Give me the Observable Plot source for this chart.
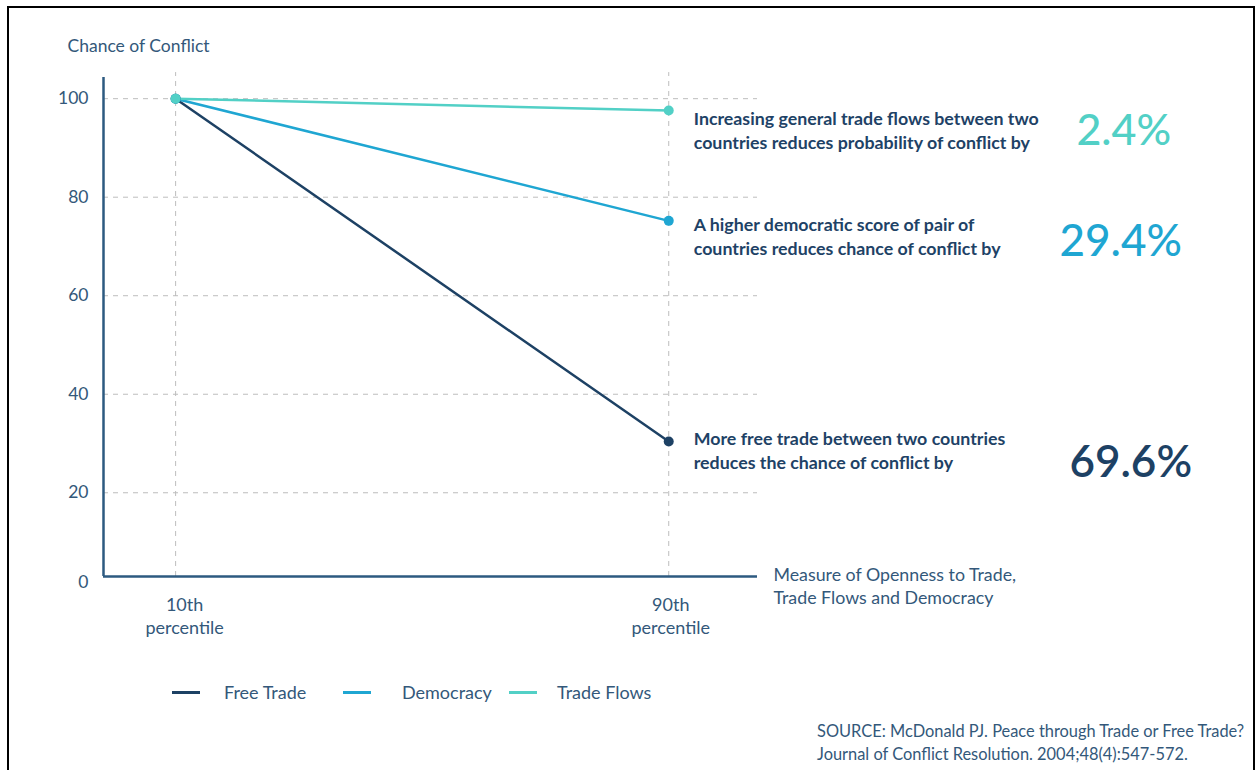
<!DOCTYPE html>
<html>
<head>
<meta charset="utf-8">
<script src="https://cdn.jsdelivr.net/npm/d3@7"></script>
<script src="https://cdn.jsdelivr.net/npm/@observablehq/plot@0.6"></script>
<style>
  html, body { margin: 0; padding: 0; background: #fff; }
  body { width: 1259px; height: 770px; position: relative; overflow: hidden; font-family: Lato, "Noto Sans", sans-serif; }
  #border { position: absolute; left: 7px; top: 6px; width: 1248px; height: 800px; border: 2px solid #000; box-sizing: border-box; }
  #chart { position: absolute; left: 0; top: 0; }
  .legend-item { position: absolute; top: 680px; height: 24px; display: flex; align-items: center; font-size: 18px; color: #33587a; }
  .legend-item .sw { width: 28px; height: 3px; margin-right: 24px; }
  #source { position: absolute; left: 817px; top: 719px; font-size: 16.4px; line-height: 23px; color: #33587a; white-space: nowrap; }
</style>
</head>
<body>
<div id="border"></div>
<div id="chart"></div>
<div id="legend"></div>
<div id="source">SOURCE: McDonald PJ. Peace through Trade or Free Trade?<br>Journal of Conflict Resolution. 2004;48(4):547-572.</div>
<script>
// ---- data ----
const seriesNames = ["Free Trade", "Democracy", "Trade Flows"];
const seriesColors = ["#1d4164", "#1fa6d2", "#52d0c6"];
const percentiles = [10, 90];
const percentileLabels = ["10th\npercentile", "90th\npercentile"];
const freeTrade = [100, 30.4];
const democracy = [100, 75.2];
const tradeFlows = [100, 97.6];
const reductions = ["69.6%", "29.4%", "2.4%"];
const notes = [
  "More free trade between two countries\nreduces the chance of conflict by",
  "A higher democratic score of pair of\ncountries reduces chance of conflict by",
  "Increasing general trade flows between two\ncountries reduces probability of conflict by"
];
const yTicks = [0, 20, 40, 60, 80, 100];
const yLabel = "Chance of Conflict";
const xLabel = "Measure of Openness to Trade,\nTrade Flows and Democracy";

// ---- build tables ----
const seriesValues = [freeTrade, democracy, tradeFlows];
const rows = [];
seriesNames.forEach((s, i) => percentiles.forEach((p, j) => rows.push({series: s, x: p, y: seriesValues[i][j]})));
const ends = seriesNames.map((s, i) => ({series: s, x: percentiles[1], y: seriesValues[i][1], note: notes[i], pct: reductions[i]}));

// ---- layout ----
const xDomain = [-1.7, 104.4];
const yDomain = [3, 104.3];
const textColor = "#33587a";
const noteColor = "#1e4266";
const axisColor = "#2d5a80";
const gridStyle = {stroke: "#bdbdbd", strokeOpacity: 1, strokeDasharray: "5,5", strokeWidth: 1};
const noteDy = {"Free Trade": -14, "Democracy": -7, "Trade Flows": -3};
const pctStyle = {"Free Trade": {fontWeight: 600, fontSize: 44}, "Democracy": {fontWeight: 500, fontSize: 44}, "Trade Flows": {fontWeight: 500, fontSize: 43}};
const pctDx = {"Free Trade": 462, "Democracy": 452, "Trade Flows": 455};
const tickDx = [9, 2];

const marks = [
  Plot.gridY({ticks: yTicks.filter(d => d > 0), ...gridStyle}),
  Plot.gridX({ticks: percentiles, ...gridStyle, y1: yDomain[0], y2: yDomain[1] + 1}),
  Plot.ruleX([xDomain[0]], {y1: yDomain[0], y2: yDomain[1], stroke: axisColor, strokeWidth: 2.5}),
  Plot.ruleY([yDomain[0]], {x1: xDomain[0], x2: xDomain[1], stroke: axisColor, strokeWidth: 2.5}),
  Plot.axisY({ticks: yTicks.filter(d => d > 0), tickSize: 0, tickPadding: 15, fontSize: 17.5, fill: textColor, label: null}),
  Plot.axisY({ticks: [0], tickSize: 0, tickPadding: 15, fontSize: 17.5, fill: textColor, label: null, dy: -9}),
  ...percentiles.map((p, i) => Plot.axisX({ticks: [p], tickFormat: () => percentileLabels[i], tickSize: 0, tickPadding: 18, fontSize: 18, lineHeight: 1.28, fill: textColor, label: null, dx: tickDx[i]})),
  Plot.text([yLabel], {frameAnchor: "top-left", text: d => d, dx: -36, dy: -38, textAnchor: "start", fontSize: 17.5, fill: textColor}),
  Plot.text([xLabel], {frameAnchor: "bottom-right", text: d => d, dx: 16, dy: -12, textAnchor: "start", lineAnchor: "top", fontSize: 17.8, lineHeight: 1.3, fill: textColor}),
  Plot.line(rows, {x: "x", y: "y", z: "series", stroke: "series", strokeWidth: 2.5}),
  Plot.dot(rows, {x: "x", y: "y", fill: "series", r: 5})
];
seriesNames.forEach(s => {
  const d = ends.filter(e => e.series === s);
  marks.push(Plot.text(d, {x: "x", y: "y", text: "note", dx: 25, dy: noteDy[s], textAnchor: "start", lineAnchor: "top", fontSize: 17.8, fontWeight: 700, lineHeight: 1.35, fill: noteColor}));
  marks.push(Plot.text(d, {x: "x", y: "y", text: "pct", dx: pctDx[s], dy: 21, textAnchor: "middle", fill: "series", ...pctStyle[s]}));
});

const chart = Plot.plot({
  width: 1259,
  height: 650,
  marginLeft: 103,
  marginRight: 502,
  marginTop: 77,
  marginBottom: 74,
  style: {fontFamily: "Lato, 'Noto Sans', sans-serif", background: "transparent", overflow: "visible"},
  x: {domain: xDomain},
  y: {domain: yDomain},
  color: {domain: seriesNames, range: seriesColors},
  marks
});
document.getElementById("chart").appendChild(chart);

// legend
const legendLeft = [172, 343, 509];
const legend = document.getElementById("legend");
seriesNames.forEach((s, i) => {
  const item = document.createElement("div");
  item.className = "legend-item";
  item.style.left = legendLeft[i] + "px";
  const sw = document.createElement("span");
  sw.className = "sw";
  sw.style.background = seriesColors[i];
  sw.style.marginRight = (i === 1 ? 31 : i === 2 ? 20 : 24) + "px";
  const t = document.createElement("span");
  t.textContent = s;
  item.appendChild(sw); item.appendChild(t);
  legend.appendChild(item);
});
</script>
</body>
</html>
